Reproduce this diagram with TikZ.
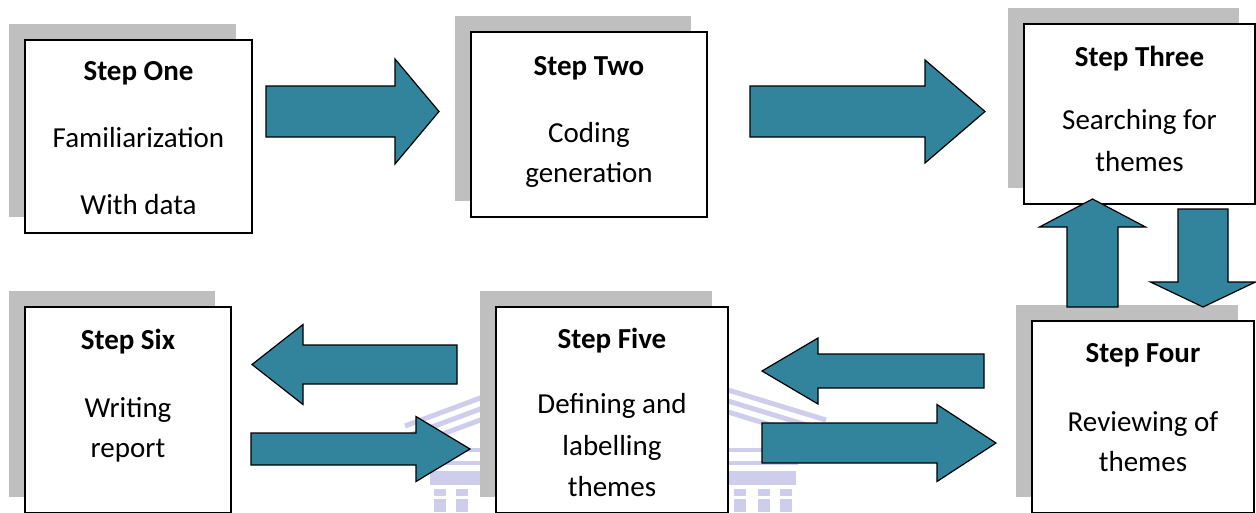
\documentclass[tikz,border=0pt]{standalone}
\usepackage{fontspec}
\setmainfont{Carlito}
\usetikzlibrary{shadows}

\definecolor{arrowteal}{RGB}{49,132,155}
\definecolor{shadowgray}{RGB}{191,191,191}
\definecolor{crest}{RGB}{206,206,236}

% horizontal block arrow: tail x, head base x, tip x, centre y, half shaft, half head
\newcommand{\hblock}[6]{%
  \filldraw[blockarrow] (#1,#4-#5) -- (#2,#4-#5) -- (#2,#4-#6) -- (#3,#4)
    -- (#2,#4+#6) -- (#2,#4+#5) -- (#1,#4+#5) -- cycle;}
% vertical block arrow: centre x, tail y, head base y, tip y, half shaft, half head
\newcommand{\vblock}[6]{%
  \filldraw[blockarrow] (#1-#5,#2) -- (#1-#5,#3) -- (#1-#6,#3) -- (#1,#4)
    -- (#1+#6,#3) -- (#1+#5,#3) -- (#1+#5,#2) -- cycle;}

\tikzset{
  stepbox/.style={draw=black, line width=1.2pt, fill=white, inner sep=0pt,
    drop shadow={shadow xshift=-16pt, shadow yshift=16pt, fill=shadowgray, opacity=1}},
  blockarrow/.style={fill=arrowteal, draw=black, line width=1.2pt, line join=miter},
  steptitle/.style={font=\fontsize{29}{35}\selectfont\bfseries, anchor=base, inner sep=0pt},
  steptext/.style={font=\fontsize{29}{35}\selectfont, anchor=base, inner sep=0pt},
  crestline/.style={draw=crest, line width=5pt},
}

\begin{document}
\begin{tikzpicture}[x=1pt, y=-1pt]
\useasboundingbox (0,0) rectangle (1256,512);

% faint crest in the background: pediment, entablature, base and columns
\begin{scope}
  \foreach \d in {0,11,22}{
    \draw[crestline] (405,426+\d) -- (604,352+\d) -- (826,420+\d);
  }
  \draw[crest, line width=4pt] (430,450) rectangle (796,463);
  \fill[crest] (430,471) rectangle (796,485);
  \foreach \cx in {440,462,740,764,786}{
    \fill[crest] (\cx-6,489) rectangle (\cx+6,512);
  }
  \fill[white] (430,496) rectangle (796,499);
\end{scope}

% step boxes
\node[stepbox, minimum width=227pt, minimum height=193pt] (one)   at (138.5,136.5) {};
\node[stepbox, minimum width=236pt, minimum height=185pt] (two)   at (589,124.5) {};
\node[stepbox, minimum width=231pt, minimum height=180pt] (three) at (1139.5,114) {};
\node[stepbox, minimum width=222pt, minimum height=192pt] (four)  at (1143,417) {};
\node[stepbox, minimum width=232pt, minimum height=206pt] (five)  at (612,410) {};
\node[stepbox, minimum width=206pt, minimum height=206pt] (six)   at (128,410) {};

% box texts
\node[steptitle] (one-t)  at (138.5,80)  {Step One};
\node[steptext]  (one-a)  at (138.5,147) {Familiarization};
\node[steptext]  (one-b)  at (138.5,214) {With data};

\node[steptitle] (two-t)  at (589,75)  {Step Two};
\node[steptext]  (two-a)  at (589,142) {Coding};
\node[steptext]  (two-b)  at (589,182) {generation};

\node[steptitle] (three-t) at (1139.5,66)  {Step Three};
\node[steptext]  (three-a) at (1139.5,129) {Searching for};
\node[steptext]  (three-b) at (1139.5,171) {themes};

\node[steptitle] (four-t) at (1143,362) {Step Four};
\node[steptext]  (four-a) at (1143,431) {Reviewing of};
\node[steptext]  (four-b) at (1143,471) {themes};

\node[steptitle] (five-t) at (612,348) {Step Five};
\node[steptext]  (five-a) at (612,413) {Defining and};
\node[steptext]  (five-b) at (612,455) {labelling};
\node[steptext]  (five-c) at (612,496) {themes};

\node[steptitle] (six-t) at (128,349) {Step Six};
\node[steptext]  (six-a) at (128,417) {Writing};
\node[steptext]  (six-b) at (128,457) {report};

% block arrows between the steps
\hblock{266}{395}{439}{111.5}{25.5}{52.5}   % one -> two
\hblock{750}{925}{985}{111.5}{25.5}{51.5}   % two -> three
\vblock{1092.5}{307}{227}{199}{25.5}{53}    % four -> three
\vblock{1203}{209}{282}{307}{25}{52.5}      % three -> four
\hblock{984}{818}{762}{371}{17}{33}         % four -> five
\hblock{762}{937}{996}{443}{20}{38.5}       % five -> four
\hblock{457}{303}{252}{364.5}{19.5}{40}     % five -> six
\hblock{251}{416}{470}{449}{16}{32.5}       % six -> five
\end{tikzpicture}
\end{document}
